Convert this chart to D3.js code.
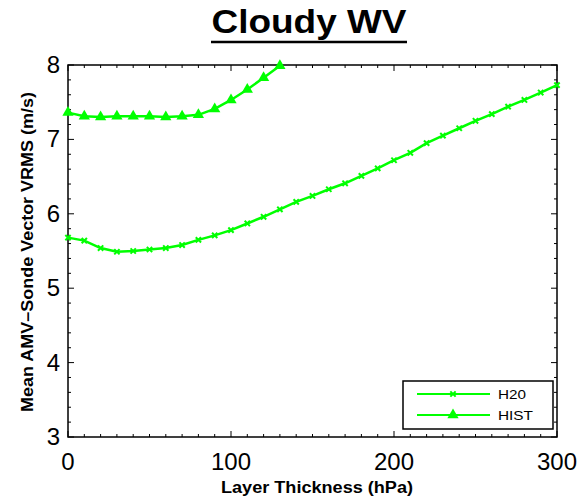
<!DOCTYPE html>
<html><head><meta charset="utf-8">
<script src="https://cdn.jsdelivr.net/npm/d3@7"></script>
<style>body{margin:0;background:#fff;} svg{display:block;font-family:"Liberation Sans",Arial,sans-serif;}</style>
</head><body>
<svg id="c" width="579" height="497"></svg>
<script>
const title = "Cloudy WV";
const xLabel = "Layer Thickness (hPa)";
const yLabel = "Mean AMV\u2013Sonde Vector VRMS (m/s)";
const xTicks = [0, 100, 200, 300];
const yTicks = [3, 4, 5, 6, 7, 8];
const seriesNames = ["H20", "HIST"];
const h20Thickness = [0,10,20,30,40,50,60,70,80,90,100,110,120,130,140,150,160,170,180,190,200,210,220,230,240,250,260,270,280,290,300];
const h20Values = [5.68,5.64,5.54,5.49,5.50,5.52,5.54,5.58,5.65,5.71,5.78,5.87,5.96,6.06,6.16,6.24,6.33,6.41,6.51,6.61,6.72,6.82,6.95,7.05,7.15,7.25,7.34,7.44,7.53,7.63,7.73];
const histThickness = [0,10,20,30,40,50,60,70,80,90,100,110,120,130];
const histValues = [7.36,7.31,7.30,7.31,7.31,7.31,7.30,7.31,7.33,7.41,7.53,7.67,7.83,7.99];

const green = "#00ff00";
const svg = d3.select("#c");
const L = 68, R = 557, T = 65, B = 437;
const x = d3.scaleLinear().domain([0, 300]).range([L, R]);
const y = d3.scaleLinear().domain([3, 8]).range([B, T]);

// title (bold, underlined)
svg.append("text").attr("x", 309).attr("y", 33).attr("text-anchor", "middle")
  .attr("font-size", 33).attr("font-weight", "bold")
  .attr("textLength", 195).attr("lengthAdjust", "spacingAndGlyphs").text(title);
svg.append("line").attr("x1", 211).attr("x2", 407).attr("y1", 42).attr("y2", 42)
  .attr("stroke", "#000").attr("stroke-width", 2.5);

// frame
svg.append("rect").attr("x", L).attr("y", T).attr("width", R - L).attr("height", B - T)
  .attr("fill", "none").attr("stroke", "#000").attr("stroke-width", 1.5);

// ticks (inward, all sides)
const xMinor = d3.range(0, 301, 10);
const yMinor = d3.range(3, 8.001, 0.2);
const tk = svg.append("g").attr("stroke", "#000").attr("stroke-width", 1);
xMinor.forEach(v => {
  const len = (v % 100 === 0) ? 6 : 3;
  tk.append("line").attr("x1", x(v)).attr("x2", x(v)).attr("y1", B).attr("y2", B - len);
  tk.append("line").attr("x1", x(v)).attr("x2", x(v)).attr("y1", T).attr("y2", T + len);
});
yMinor.forEach(v => {
  const major = Math.abs(v - Math.round(v)) < 1e-6;
  const len = major ? 6 : 3;
  tk.append("line").attr("y1", y(v)).attr("y2", y(v)).attr("x1", L).attr("x2", L + len);
  tk.append("line").attr("y1", y(v)).attr("y2", y(v)).attr("x1", R).attr("x2", R - len);
});

// tick labels
svg.append("g").selectAll("text").data(xTicks).join("text")
  .attr("x", d => x(d)).attr("y", 470).attr("text-anchor", "middle")
  .attr("font-size", 24).text(d => d);
svg.append("g").selectAll("text").data(yTicks).join("text")
  .attr("x", 60).attr("y", d => y(d) + 8).attr("text-anchor", "end")
  .attr("font-size", 24).text(d => d);

// axis titles
svg.append("text").attr("x", 317).attr("y", 493).attr("text-anchor", "middle")
  .attr("font-size", 16).attr("font-weight", "bold")
  .attr("textLength", 192).attr("lengthAdjust", "spacingAndGlyphs").text(xLabel);
svg.append("text").attr("transform", `translate(33,252) rotate(-90)`)
  .attr("text-anchor", "middle").attr("font-size", 16).attr("font-weight", "bold")
  .attr("textLength", 320).attr("lengthAdjust", "spacingAndGlyphs").text(yLabel);

// lines
const line = d3.line().x(d => x(d[0])).y(d => y(d[1]));
const h20 = h20Thickness.map((t, i) => [t, h20Values[i]]);
const hist = histThickness.map((t, i) => [t, histValues[i]]);
svg.append("path").datum(h20).attr("d", line).attr("fill", "none").attr("stroke", green).attr("stroke-width", 2.5);
svg.append("path").datum(hist).attr("d", line).attr("fill", "none").attr("stroke", green).attr("stroke-width", 2.5);

const cross = d3.symbol().type(d3.symbolX).size(20);
const tri = d3.symbol().type(d3.symbolTriangle).size(55);
svg.append("g").selectAll("path").data(h20).join("path")
  .attr("transform", d => `translate(${x(d[0])},${y(d[1])})`).attr("d", cross)
  .attr("fill", "none").attr("stroke", green).attr("stroke-width", 2);
svg.append("g").selectAll("path").data(hist).join("path")
  .attr("transform", d => `translate(${x(d[0])},${y(d[1])})`).attr("d", tri)
  .attr("fill", green);

// legend
const lg = svg.append("g");
lg.append("rect").attr("x", 403).attr("y", 381).attr("width", 150).attr("height", 48)
  .attr("fill", "#fff").attr("stroke", "#000").attr("stroke-width", 1.5);
const legendTextLen = [28, 35];
[0, 1].forEach(i => {
  const yy = 394 + i * 21;
  lg.append("line").attr("x1", 417).attr("x2", 490).attr("y1", yy).attr("y2", yy)
    .attr("stroke", green).attr("stroke-width", 2);
  lg.append("path").attr("transform", `translate(453,${yy})`).attr("d", i === 0 ? cross : tri)
    .attr("fill", i === 0 ? "none" : green).attr("stroke", i === 0 ? green : "none").attr("stroke-width", 2);
  lg.append("text").attr("x", 498).attr("y", yy + 5).attr("font-size", 13)
    .attr("textLength", legendTextLen[i]).attr("lengthAdjust", "spacingAndGlyphs").text(seriesNames[i]);
});
</script>
</body></html>
